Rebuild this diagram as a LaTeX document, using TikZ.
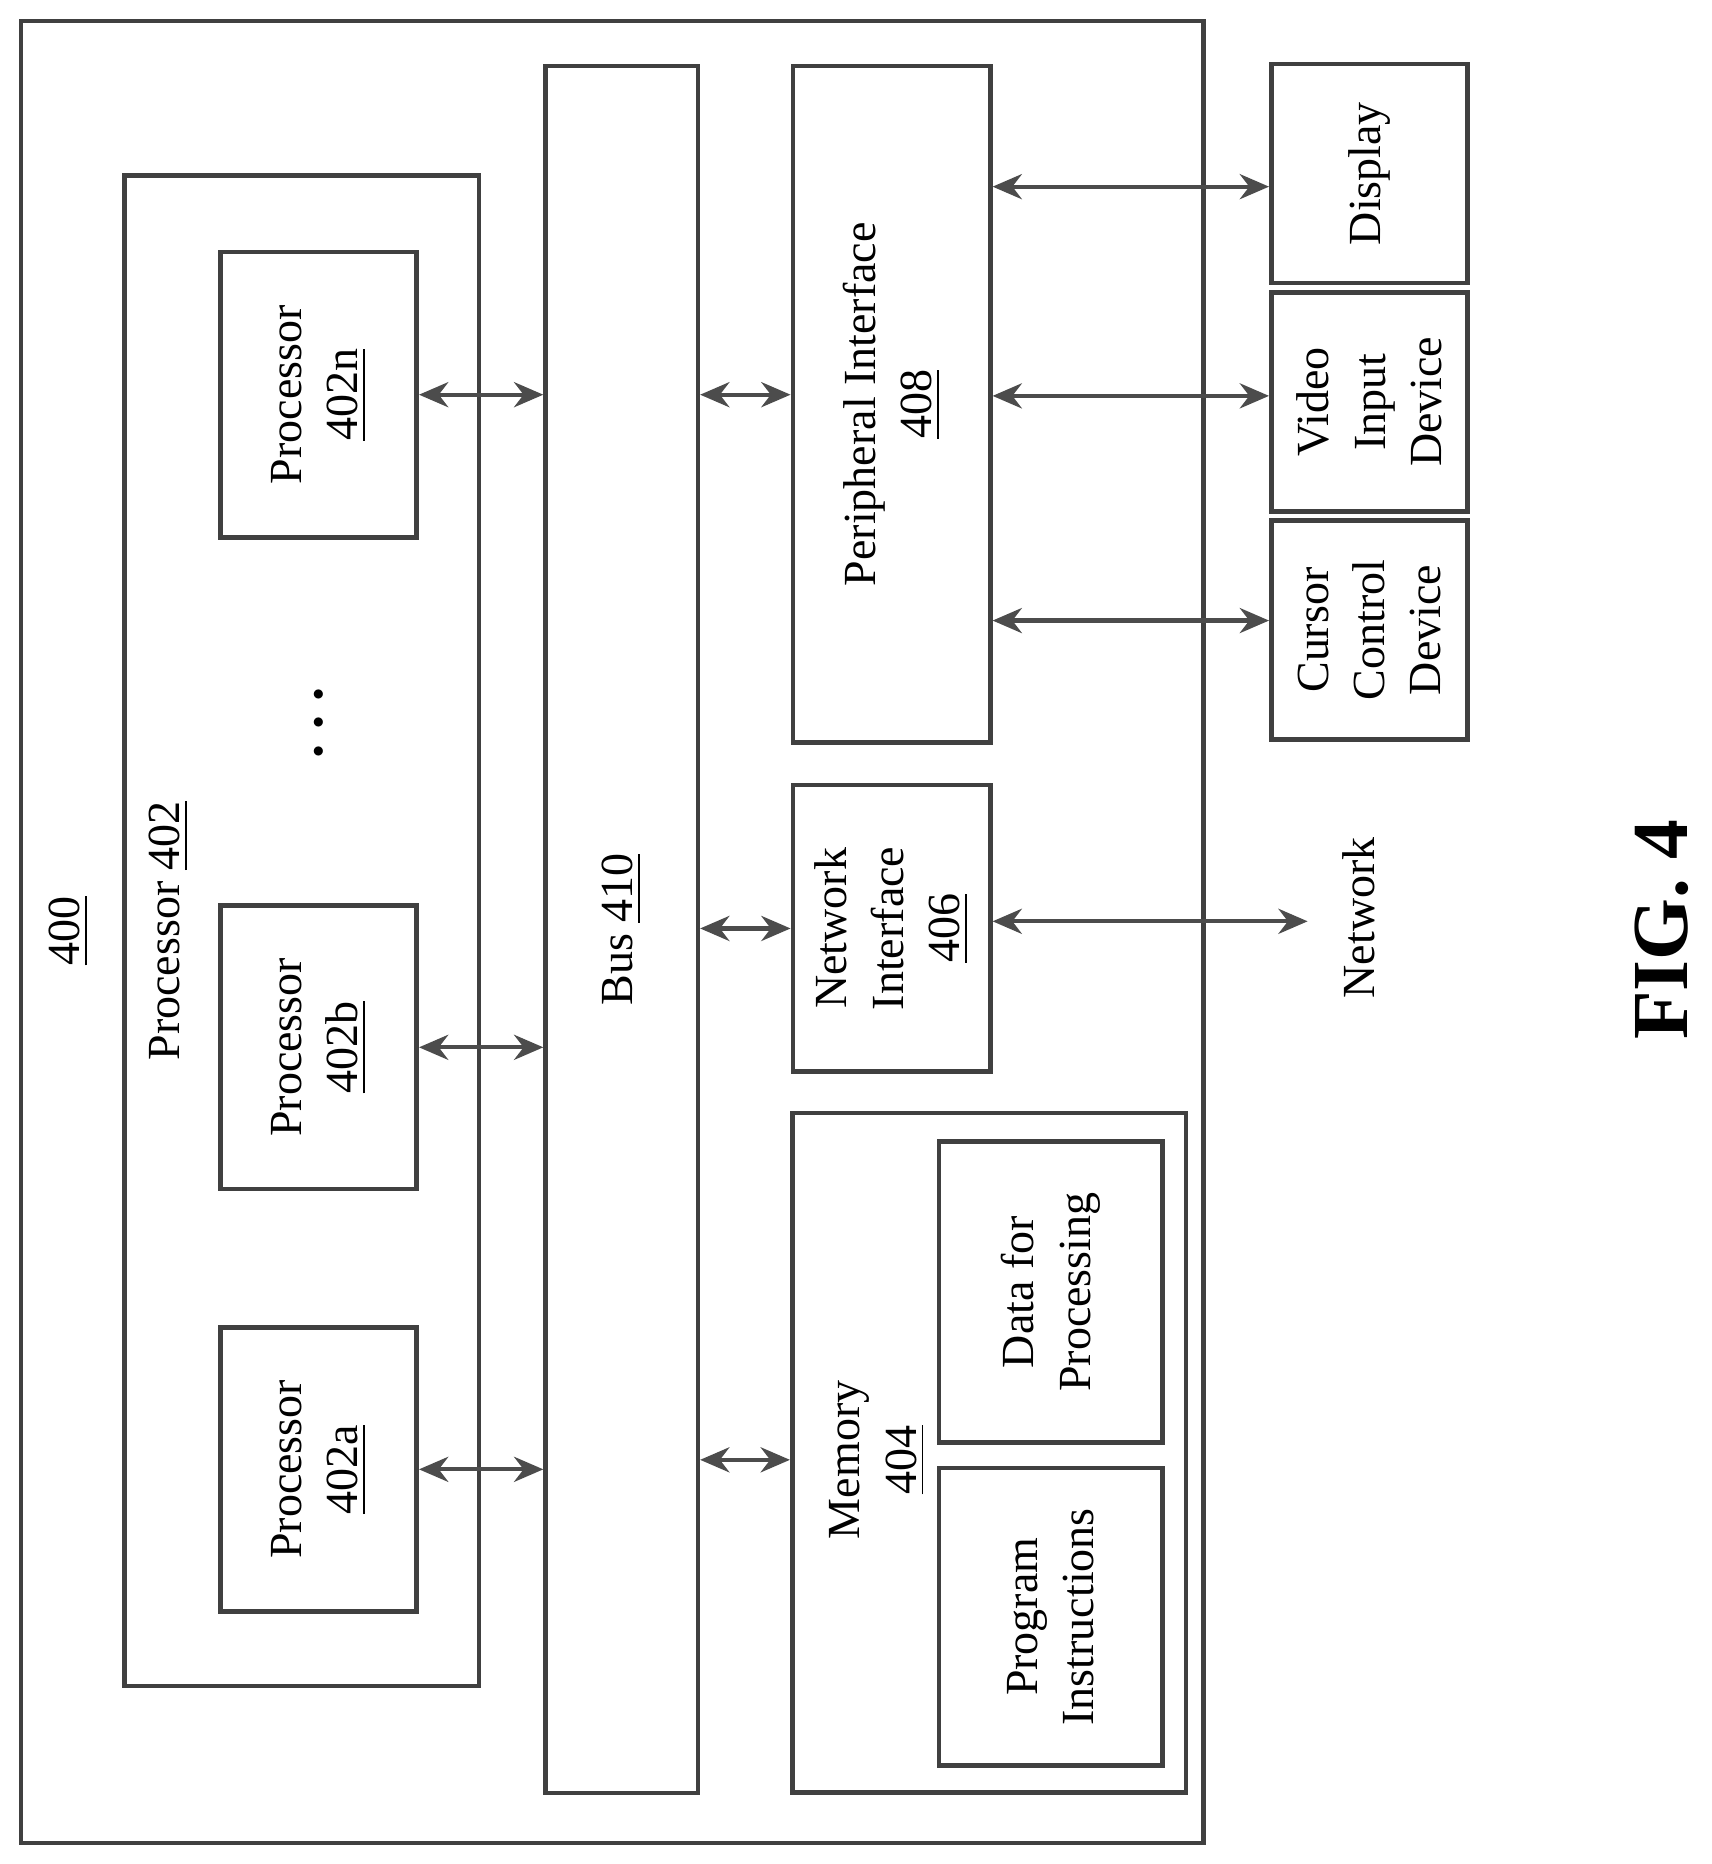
\documentclass[tikz,border=0pt]{standalone}
\usepackage{fontspec}
\setmainfont{Liberation Serif}
\usetikzlibrary{arrows.meta}
\usetikzlibrary{positioning}

\tikzset{
    box/.style={draw=black!75, line width=1.1pt, inner sep=0pt},
    txt/.style={rotate=90, align=center, font=\fontsize{11}{13.5}\selectfont, inner sep=1pt},
    dar/.style={draw=black!70, line width=1pt, {Stealth[length=7pt,width=6pt]}-{Stealth[length=7pt,width=6pt]}}
}

\begin{document}
\begin{tikzpicture}[x=0.01cm, y=-0.01cm]
    \useasboundingbox (0,0) rectangle (1440,1568);

    % frames
    \node [box, minimum width=9.94cm, minimum height=15.32cm] (sys) at (515,784) {};
    \node [box, minimum width=2.98cm, minimum height=12.70cm] (proc) at (254,783) {};
    \node [box, minimum width=1.28cm, minimum height=14.52cm] (bus) at (523,782) {};
    \node [box, minimum width=3.31cm, minimum height=5.71cm] (mem) at (832,1222) {};

    \node [txt] (sys-t) at (58,783) {\underline{400}};
    \node [txt] (proc-t) at (142,783) {Processor \underline{402}};
    \node [txt] (bus-t) at (523,782) {Bus \underline{410}};
    \node [txt] (mem-t) at (738,1228) {Memory\\\underline{404}};

    % processors
    \node [box, minimum width=1.65cm, minimum height=2.40cm] (pn) at (268,332) {};
    \node [box, minimum width=1.65cm, minimum height=2.38cm] (pb) at (268,881) {};
    \node [box, minimum width=1.65cm, minimum height=2.39cm] (pa) at (268,1236) {};
    \node [txt] (pn-t) at (pn) {Processor\\\underline{402n}};
    \node [txt] (pb-t) at (pb) {Processor\\\underline{402b}};
    \node [txt] (pa-t) at (pa) {Processor\\\underline{402a}};
    \node [txt, font=\fontsize{20}{20}\selectfont] (dots) at (270,608) {$\cdot\!\cdot\!\cdot$};

    % interfaces
    \node [box, minimum width=1.66cm, minimum height=5.69cm] (per) at (750,340) {};
    \node [box, minimum width=1.66cm, minimum height=2.41cm] (ni) at (750,781) {};
    \node [txt] (per-t) at (per) {Peripheral Interface\\\underline{408}};
    \node [txt] (ni-t) at (ni) {Network\\Interface\\\underline{406}};

    % memory contents
    \node [box, minimum width=1.88cm, minimum height=2.53cm] (data) at (884,1087) {};
    \node [box, minimum width=1.88cm, minimum height=2.50cm] (prog) at (884,1360) {};
    \node [txt] (data-t) at (data) {Data for\\Processing};
    \node [txt] (prog-t) at (prog) {Program\\Instructions};

    % devices
    \node [box, minimum width=1.65cm, minimum height=1.84cm] (disp) at (1152,146) {};
    \node [box, minimum width=1.65cm, minimum height=1.84cm] (vid) at (1152,338) {};
    \node [box, minimum width=1.65cm, minimum height=1.84cm] (cur) at (1152,530) {};
    \node [txt] (disp-t) at (disp) {Display};
    \node [txt] (vid-t) at (vid) {Video\\Input\\Device};
    \node [txt] (cur-t) at (cur) {Cursor\\Control\\Device};

    \node [txt] (net) at (1143,772) {Network};
    \coordinate (net-end) at (1100,775);

    \node [rotate=90, font=\fontsize{19}{19}\selectfont\bfseries] (fig) at (1398,782) {FIG. 4};

    % connectors
    \draw [dar] (pn.east) -- (pn.east -| bus.west);
    \draw [dar] (pb.east) -- (pb.east -| bus.west);
    \draw [dar] (pa.east) -- (pa.east -| bus.west);
    \draw [dar] (bus.east |- pn) -- (per.west |- pn);
    \draw [dar] (bus.east |- ni) -- (ni.west);
    \draw [dar] (bus.east |- mem-t) -- (mem.west |- mem-t);
    \draw [dar] (per.east |- 0,157) -- (disp.west |- 0,157);
    \draw [dar] (per.east |- 0,333) -- (vid.west |- 0,333);
    \draw [dar] (per.east |- 0,522) -- (cur.west |- 0,522);
    \draw [dar] (ni.east |- net-end) -- (net-end);
\end{tikzpicture}
\end{document}
